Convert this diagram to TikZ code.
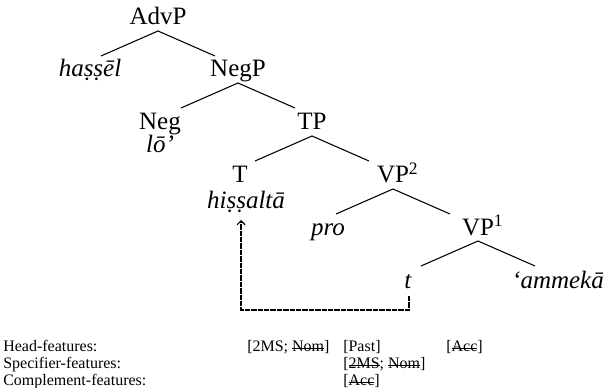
\documentclass[tikz,border=0pt]{standalone}
\usepackage{fontspec}
\setmainfont{Liberation Serif}
\usetikzlibrary{arrows.meta,calc}

% struck-out (checked) feature
\newcommand\strk[1]{\setbox0\hbox{#1}\rlap{\rule[0.3ex]{\wd0}{0.5pt}}\box0}

% a binary branching under a phrase label: fixed-slope edges from its apex
\newcommand\fork[1]{%
  \path (#1.base) ++(0,6) coordinate (#1-apex)
        ++(-57,25) coordinate (#1-l) ++(114,0) coordinate (#1-r);
  \draw[edge] (#1-l) -- (#1-apex) -- (#1-r);}

\begin{document}
\begin{tikzpicture}[x=0.75pt,y=-0.75pt,
  lbl/.style={anchor=base,inner sep=0pt,font=\fontsize{18.75}{21}\selectfont},
  feat/.style={anchor=base west,inner sep=0pt,font=\fontsize{12}{14}\selectfont},
  edge/.style={line width=0.8pt},
  move/.style={line width=0.8pt,dash pattern=on 4pt off 0.8pt,
               -{Straight Barb[length=3pt,width=6pt]}}]
\useasboundingbox (0,0) rectangle (609,388);

% tree labels
\node[lbl] (AdvP) at (158,25) {AdvP};
\node[lbl] (hassel) at (90,77) {\textit{haṣṣēl}};
\node[lbl] (NegP) at (238,77) {NegP};
\node[lbl] (Neg) at (160,130) {Neg};
\node[lbl] (lo) at (160,153) {\textit{lō’}};
\node[lbl] (TP) at (312,130) {TP};
\node[lbl] (T) at (240,183) {T};
\node[lbl] (hiss) at (246,208) {\textit{hiṣṣaltā}};
\node[lbl] (VP2) at (393,183) {VP\rlap{\textsuperscript{2}}};
\node[lbl] (pro) at (328,235) {\textit{pro}};
\node[lbl] (VP1) at (478,235) {VP\rlap{\textsuperscript{1}}};
\node[lbl] (t) at (408,288) {\textit{t}};
\node[lbl] (amm) at (558,288) {\textit{‘ammekā}};

% branches
\fork{AdvP}
\fork{NegP}
\fork{TP}
\fork{VP2}
\fork{VP1}

% head movement of the verb from t to T
\coordinate (land) at ($(T.base)+(1,37)$);
\draw[move] ($(t.base)+(1,8)$) |- ($(T.base)+(1,127)$) -- (land);

% feature bookkeeping
\node[feat] (hf) at (3,351) {Head-features:};
\node[feat] (sf) at (3,368) {Specifier-features:};
\node[feat] (cf) at (3,385) {Complement-features:};
\node[feat] (h1) at (247,351) {[2MS; \strk{Nom}]};
\node[feat] (h2) at (343,351) {[Past]};
\node[feat] (h3) at (446,351) {[\strk{Acc}]};
\node[feat] (s1) at (343,368) {[\strk{2MS}; \strk{Nom}]};
\node[feat] (c1) at (343,385) {[\strk{Acc}]};
\end{tikzpicture}
\end{document}
